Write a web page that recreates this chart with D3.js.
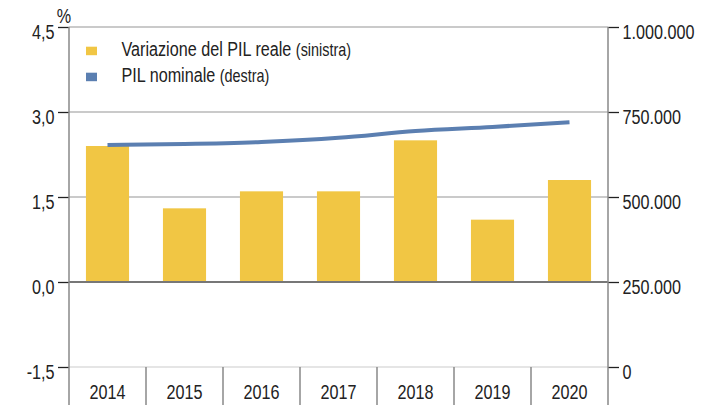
<!DOCTYPE html>
<html><head><meta charset="utf-8">
<script src="https://cdn.jsdelivr.net/npm/d3@7"></script>
<style>
body{margin:0;background:#fff;}
svg text{font-family:"Liberation Sans",Arial,sans-serif;fill:#222;}
</style></head>
<body><svg id="c" width="720" height="405"></svg>
<script>
const years = ["2014","2015","2016","2017","2018","2019","2020"];
const pilReale = [2.4, 1.3, 1.6, 1.6, 2.5, 1.1, 1.8];
const pilNominale = [653000, 656000, 662000, 674000, 694000, 706000, 720000];
const leftTicks = [-1.5, 0, 1.5, 3.0, 4.5];
const rightTicks = [0, 250000, 500000, 750000, 1000000];
const legendLabels = [["Variazione del PIL reale", "(sinistra)"], ["PIL nominale", "(destra)"]];

const colBar = "#f1c644", colLine = "#5b7fb1";
const SX = 0.77, FS = 21;
const svg = d3.select("#c");
const L = 69, R = 608, T = 27, B = 367;

const x = d3.scaleBand().domain(years).range([L, R]).paddingInner(0.44).paddingOuter(0.22);
const yl = d3.scaleLinear().domain([-1.5, 4.5]).range([B, T]);
const yr = d3.scaleLinear().domain([0, 1000000]).range([B, T]);
const fmtL = v => d3.format(".1f")(v).replace(".", ",").replace("\u2212", "-");
const fmtR = v => d3.format(",")(v).replace(/,/g, ".");

function ctext(sel, tx, ty, s) {
  sel.attr("x", 0).attr("y", 0).attr("dy", null)
     .attr("transform", `translate(${tx},${ty}) scale(${s || SX},1)`);
}

// gridlines
svg.append("g").selectAll("line").data(leftTicks.filter(d => d !== 0)).join("line")
  .attr("x1", L).attr("x2", R).attr("y1", d => yl(d)).attr("y2", d => yl(d))
  .attr("stroke", d => d === -1.5 ? "#ddd" : "#b8b8b8").attr("stroke-width", 1.3);

// bars
svg.append("g").selectAll("rect").data(years).join("rect")
  .attr("x", d => x(d)).attr("width", x.bandwidth())
  .attr("y", (d, i) => yl(Math.max(0, pilReale[i])))
  .attr("height", (d, i) => Math.abs(yl(pilReale[i]) - yl(0)))
  .attr("fill", colBar);

// zero line
svg.append("line").attr("x1", L).attr("x2", R).attr("y1", yl(0)).attr("y2", yl(0))
  .attr("stroke", "#777").attr("stroke-width", 2);

// line series
const line = d3.line().x((d, i) => x(years[i]) + x.bandwidth() / 2).y(d => yr(d)).curve(d3.curveMonotoneX);
svg.append("path").datum(pilNominale).attr("d", line).attr("fill", "none")
  .attr("stroke", colLine).attr("stroke-width", 4);

// left axis
const axL = svg.append("g").attr("transform", `translate(${L},0)`)
  .call(d3.axisLeft(yl).tickValues(leftTicks).tickFormat(fmtL).tickSize(11).tickPadding(4));
axL.select(".domain").remove();
axL.selectAll(".tick line").attr("stroke", "#222").attr("stroke-width", 1.3);
axL.selectAll(".tick text").attr("font-size", FS).each(function () { ctext(d3.select(this), -14.5, 11); });
svg.append("line").attr("x1", L).attr("x2", L).attr("y1", T).attr("y2", 405).attr("stroke", "#888").attr("stroke-width", 1.5);

// right axis
const axR = svg.append("g").attr("transform", `translate(${R},0)`)
  .call(d3.axisRight(yr).tickValues(rightTicks).tickFormat(fmtR).tickSize(11).tickPadding(4));
axR.select(".domain").remove();
axR.selectAll(".tick line").attr("stroke", "#222").attr("stroke-width", 1.3);
axR.selectAll(".tick text").attr("font-size", FS).each(function () { ctext(d3.select(this), 14.5, 11); });
svg.append("line").attr("x1", R).attr("x2", R).attr("y1", T).attr("y2", 405).attr("stroke", "#888").attr("stroke-width", 1.5);

// category separators
const bounds = d3.range(years.length + 1).map(i => L + i * (R - L) / years.length);
svg.append("g").selectAll("line").data(bounds.slice(1, -1)).join("line")
  .attr("x1", d => d).attr("x2", d => d).attr("y1", B).attr("y2", 405)
  .attr("stroke", "#888").attr("stroke-width", 1.5);
svg.append("g").selectAll("text").data(years).join("text")
  .attr("text-anchor", "middle").attr("font-size", FS).text(d => d)
  .each(function (d) { ctext(d3.select(this), x(d) + x.bandwidth() / 2, 398.5); });

// % label
ctext(svg.append("text").attr("text-anchor", "middle").attr("font-size", FS).text("%"), 64, 23);

// legend
const lg = svg.append("g");
[colBar, colLine].forEach((c, i) => {
  const by = 55.7 + i * 26;
  lg.append("rect").attr("x", 86).attr("y", by - 9).attr("width", 11).attr("height", 8.5).attr("fill", c);
  const t = lg.append("text").attr("font-size", FS).text(legendLabels[i][0]);
  ctext(t, 121.5, by);
  const w = t.node().getComputedTextLength() * SX;
  const p = lg.append("text").attr("font-size", 18).text(legendLabels[i][1]);
  ctext(p, 121.5 + w + 4.5, by, 0.8);
});
</script></body></html>
